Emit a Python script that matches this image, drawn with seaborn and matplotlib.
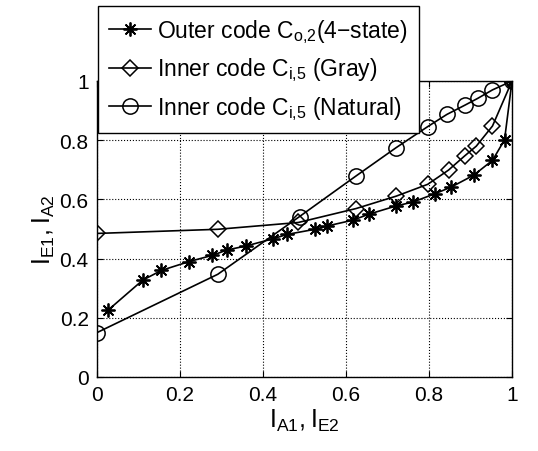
import matplotlib.pyplot as plt
import pandas as pd
import seaborn as sns

# EXIT chart values
outer_x = [0.026, 0.110, 0.155, 0.222, 0.278, 0.313, 0.360, 0.424, 0.459, 0.525, 0.554,
           0.617, 0.655, 0.721, 0.761, 0.814, 0.854, 0.908, 0.953, 0.982, 1.0]
outer_y = [0.225, 0.327, 0.360, 0.390, 0.411, 0.429, 0.443, 0.467, 0.482, 0.499, 0.510,
           0.530, 0.550, 0.578, 0.591, 0.619, 0.642, 0.682, 0.732, 0.801, 1.0]

gray_x = [0.0, 0.291, 0.485, 0.624, 0.721, 0.797, 0.847, 0.886, 0.914, 0.953, 1.0]
gray_y = [0.485, 0.499, 0.522, 0.569, 0.611, 0.651, 0.699, 0.747, 0.780, 0.848, 1.0]

nat_x = [0.0, 0.291, 0.488, 0.624, 0.721, 0.797, 0.843, 0.886, 0.917, 0.953, 1.0]
nat_y = [0.150, 0.347, 0.542, 0.679, 0.775, 0.846, 0.887, 0.918, 0.941, 0.970, 1.0]

labels = [r'Outer code $\mathregular{C_{o{,}2}}$(4$-$state)',
          r'Inner code $\mathregular{C_{i{,}5}}$ (Gray)',
          r'Inner code $\mathregular{C_{i{,}5}}$ (Natural)']

plt.rcParams['font.family'] = ['Liberation Sans', 'DejaVu Sans']
plt.rcParams['mathtext.fontset'] = 'custom'
plt.rcParams['mathtext.rm'] = 'Liberation Sans'

fig = plt.figure(figsize=(5.38, 4.52), dpi=100)
ax = fig.add_axes([97 / 538, 1 - 378 / 452, 415 / 538, 296 / 452])

series = [(outer_x, outer_y, (8, 2, 0), 10, 1.3, 'k'),
          (gray_x, gray_y, 'D', 8.5, 1.1, 'none'),
          (nat_x, nat_y, 'o', 11, 1.1, 'none')]
for (xs, ys, mk, ms, mew, fc), lab in zip(series, labels):
    df = pd.DataFrame({'x': xs, 'y': ys})
    sns.lineplot(data=df, x='x', y='y', sort=False, estimator=None, ax=ax,
                 color='k', linewidth=1.2, marker=mk, markersize=ms,
                 markeredgewidth=mew, markerfacecolor=fc,
                 markeredgecolor='k', label=lab)

ax.set_xlim(0, 1)
ax.set_ylim(0, 1)
ax.set_xticks([0, 0.2, 0.4, 0.6, 0.8, 1])
ax.set_yticks([0, 0.2, 0.4, 0.6, 0.8, 1])
ax.set_xticklabels(['0', '0.2', '0.4', '0.6', '0.8', '1'])
ax.set_yticklabels(['0', '0.2', '0.4', '0.6', '0.8', '1'])
ax.grid(True, linestyle=':', color='k', linewidth=0.8)
ax.tick_params(direction='in', top=True, right=True, length=4, labelsize=15, pad=6)
for s in ax.spines.values():
    s.set_linewidth(1.0)
ax.set_xlabel(r'$\mathregular{I_{A1},I_{E2}}$', fontsize=18, labelpad=2)
ax.set_ylabel(r'$\mathregular{I_{E1},I_{A2}}$', fontsize=18, labelpad=2)

leg = ax.legend(loc='upper left', bbox_to_anchor=(0.002, 1.253), borderaxespad=0,
                fontsize=16.5, fancybox=False, framealpha=1, edgecolor='k',
                handlelength=1.8, handletextpad=0.3, labelspacing=0.45,
                borderpad=0.5)
leg.get_frame().set_linewidth(1.0)
leg.set_zorder(5)

fig.savefig('out.png', dpi=100)
